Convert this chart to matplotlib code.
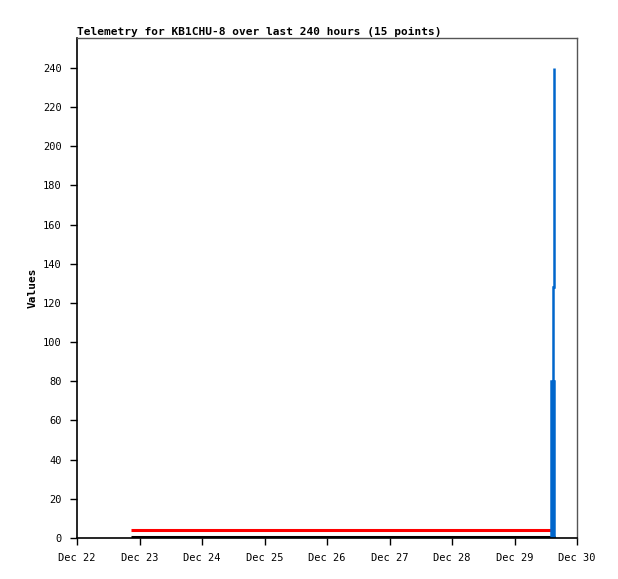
import matplotlib
matplotlib.use("Agg")
import matplotlib.pyplot as plt
from datetime import datetime, timedelta

# --- data -------------------------------------------------------------------
T0 = datetime(2022, 12, 22)
flat_hours = [20.7, 32.0, 44.0, 56.0, 68.0, 80.0, 92.0, 104.0, 116.0,
              128.0, 140.0, 152.0, 164.0, 176.0, 183.6]
red_values = [4.1] * 15
black_values = [0.4] * 15
blue_hours = [182.1, 182.1, 182.6, 182.6, 183.1, 183.1, 182.7, 182.7,
              183.0, 183.0]
blue_values = [0, 80, 80, 0, 0, 80, 80, 128, 128, 240]

x_ticks = [T0 + timedelta(days=d) for d in range(9)]
x_labels = [t.strftime("%b %d").replace(" 0", " ") for t in x_ticks]
y_ticks = list(range(0, 241, 20))

FONT = "DejaVu Sans Mono"

fig = plt.figure(figsize=(6.18, 5.79), dpi=100)
ax = fig.add_axes([77 / 618, 41 / 579, 500 / 618, 500 / 579])

t_flat = [T0 + timedelta(hours=h) for h in flat_hours]
t_blue = [T0 + timedelta(hours=h) for h in blue_hours]
ax.plot(t_flat, black_values, color="black", lw=2.2, solid_capstyle="butt")
ax.plot(t_flat[:14] + [t_blue[0]], red_values, color="#ff0000", lw=2.2,
        solid_capstyle="butt")
ax.plot(t_blue, blue_values, color="#0066cc", lw=1.8,
        solid_joinstyle="miter", solid_capstyle="butt")

ax.set_xlim(x_ticks[0], x_ticks[-1])
ax.set_ylim(0, 255.3)
ax.set_xticks(x_ticks)
ax.set_xticklabels(x_labels, fontsize=7.5, family=FONT)
ax.set_yticks(y_ticks)
ax.set_yticklabels([str(v) for v in y_ticks], fontsize=7.5, family=FONT)
ax.tick_params(direction="out", length=5, width=1, pad=6)

for side in ("left", "bottom"):
    ax.spines[side].set_color("black")
    ax.spines[side].set_linewidth(1.2)
for side in ("top", "right"):
    ax.spines[side].set_color("#555555")
    ax.spines[side].set_linewidth(1)

ax.set_ylabel("Values", fontsize=8, family=FONT, fontweight="bold", labelpad=4)
ax.set_title("Telemetry for KB1CHU-8 over last 240 hours (15 points)",
             fontsize=8, family=FONT, fontweight="bold", loc="left", pad=2)

fig.savefig("out.png", dpi=100)
